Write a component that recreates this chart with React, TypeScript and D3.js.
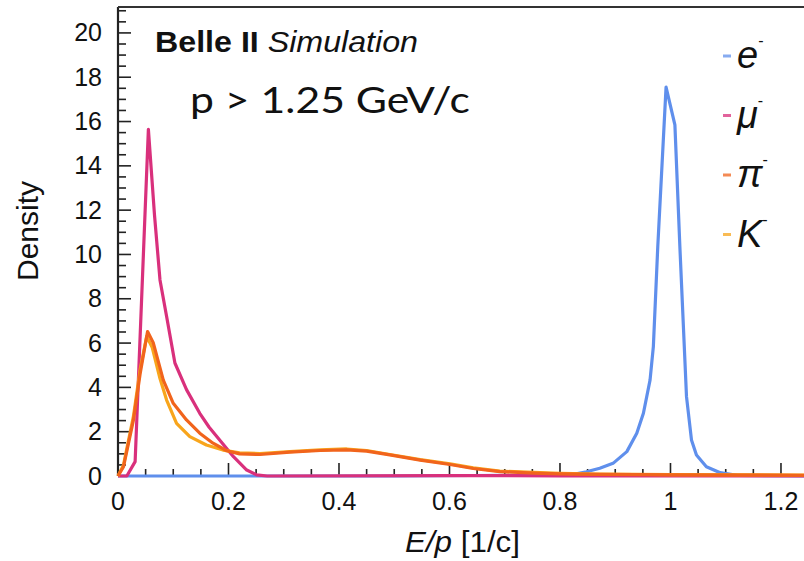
import React, { useEffect, useRef } from 'react';
import * as d3 from 'd3';

// E/p values (x) and density (y)
const electronX = [0, 0.5, 0.82, 0.848, 0.872, 0.896, 0.921, 0.939, 0.951, 0.963, 0.969, 0.977, 0.992, 1.008, 1.017, 1.029, 1.038, 1.047, 1.065, 1.09, 1.12, 1.25];
const electronY = [0, 0, 0.05, 0.19, 0.35, 0.57, 1.1, 1.93, 2.83, 4.33, 5.84, 10.35, 17.55, 15.85, 10.35, 3.58, 1.63, 0.95, 0.42, 0.15, 0.03, 0];

const muonX = [0, 0.016, 0.031, 0.055, 0.066, 0.076, 0.088, 0.103, 0.124, 0.148, 0.165, 0.184, 0.209, 0.233, 0.251, 0.27, 0.6, 0.8, 1.25];
const muonY = [0, 0, 0.65, 15.65, 11.8, 8.85, 7.2, 5.1, 3.9, 2.83, 2.2, 1.62, 0.87, 0.27, 0.05, 0, 0.02, 0.01, 0];

const pionX = [0, 0.01, 0.028, 0.04, 0.0535, 0.064, 0.082, 0.1, 0.124, 0.148, 0.172, 0.197, 0.22, 0.257, 0.311, 0.366, 0.414, 0.45, 0.492, 0.547, 0.601, 0.643, 0.691, 0.752, 0.8, 0.872, 1.0, 1.25];
const pionY = [0, 0.42, 2.53, 4.6, 6.52, 6.0, 4.33, 3.28, 2.53, 1.93, 1.48, 1.14, 1.0, 0.97, 1.08, 1.15, 1.18, 1.12, 0.95, 0.72, 0.52, 0.34, 0.2, 0.13, 0.1, 0.07, 0.05, 0.03];

const kaonX = [0, 0.01, 0.028, 0.04, 0.052, 0.062, 0.076, 0.088, 0.106, 0.13, 0.16, 0.19, 0.22, 0.257, 0.311, 0.366, 0.414, 0.45, 0.492, 0.547, 0.601, 0.643, 0.691, 0.752, 0.8, 0.872, 1.0, 1.25];
const kaonY = [0, 0.5, 2.7, 4.8, 6.3, 5.8, 4.4, 3.43, 2.38, 1.78, 1.4, 1.17, 1.05, 1.01, 1.1, 1.18, 1.22, 1.15, 0.97, 0.74, 0.55, 0.37, 0.22, 0.16, 0.12, 0.09, 0.06, 0.04];

const seriesNames = ['e', 'μ', 'π', 'K'];
const seriesColors = ['#5f8fec', '#d9307c', '#f1641c', '#f8a51c'];
const xTicks = [0, 0.2, 0.4, 0.6, 0.8, 1, 1.2];
const yTicks = [0, 2, 4, 6, 8, 10, 12, 14, 16, 18, 20];

const W = 804;
const H = 561;

export default function App() {
  const svgRef = useRef<SVGSVGElement>(null);

  useEffect(() => {
    const svg = d3.select(svgRef.current);
    svg.selectAll('*').remove();

    const left = 118, right = 808.6, top = 7, bottom = 476;
    const x = d3.scaleLinear().domain([0, 1.25]).range([left, right]);
    const y = d3.scaleLinear().domain([0, 21.17]).range([bottom, top]);

    const helv = '"Liberation Sans", Arial, sans-serif';

    // curves
    const series = [
      { xs: electronX, ys: electronY, c: seriesColors[0] },
      { xs: muonX, ys: muonY, c: seriesColors[1] },
      { xs: kaonX, ys: kaonY, c: seriesColors[3] },
      { xs: pionX, ys: pionY, c: seriesColors[2] },
    ];
    const line = d3.line<[number, number]>().x((d) => x(d[0])).y((d) => y(d[1]));

    // axis frame
    const g = svg.append('g');
    g.append('line').attr('x1', left).attr('x2', left).attr('y1', top).attr('y2', bottom)
      .attr('stroke', '#222').attr('stroke-width', 2.2);
    g.append('line').attr('x1', left).attr('x2', W).attr('y1', top).attr('y2', top)
      .attr('stroke', '#333').attr('stroke-width', 2.2);
    g.append('line').attr('x1', left).attr('x2', W).attr('y1', bottom).attr('y2', bottom)
      .attr('stroke', '#222').attr('stroke-width', 2);

    // y ticks every 0.5, major every 2
    d3.range(0, 21.01, 0.5).forEach((v) => {
      const major = Math.abs(v % 2) < 1e-6;
      g.append('line').attr('x1', left).attr('x2', left + (major ? 13 : 8))
        .attr('y1', y(v)).attr('y2', y(v)).attr('stroke', '#222').attr('stroke-width', 1.6);
    });
    // x ticks every 0.05, major every 0.2
    d3.range(0, 1.2501, 0.05).forEach((v) => {
      const major = Math.abs(v / 0.2 - Math.round(v / 0.2)) < 1e-6;
      g.append('line').attr('x1', x(v)).attr('x2', x(v))
        .attr('y1', bottom).attr('y2', bottom - (major ? 13 : 7)).attr('stroke', '#222').attr('stroke-width', 1.6);
    });

    g.selectAll('.ylab').data(yTicks).join('text')
      .attr('x', 102).attr('y', (d) => y(d) + 8.5)
      .attr('text-anchor', 'end').attr('font-family', helv).attr('font-size', 25).attr('fill', '#111')
      .text((d) => d);
    g.selectAll('.xlab').data(xTicks).join('text')
      .attr('x', (d) => x(d)).attr('y', 510)
      .attr('text-anchor', 'middle').attr('font-family', helv).attr('font-size', 25).attr('fill', '#111')
      .text((d) => d);

    svg.append('g').selectAll('path').data(series).join('path')
      .attr('d', (s) => line(s.xs.map((v, i) => [v, s.ys[i]] as [number, number])))
      .attr('fill', 'none').attr('stroke', (s) => s.c).attr('stroke-width', 3.2)
      .attr('stroke-linejoin', 'round');

    // axis titles
    svg.append('text').attr('transform', 'translate(38,231) rotate(-90)')
      .attr('text-anchor', 'middle').attr('font-family', helv).attr('font-size', 30).attr('fill', '#111')
      .text('Density');
    const xt = svg.append('text').attr('x', 405).attr('y', 552)
      .attr('font-family', helv).attr('font-size', 30).attr('fill', '#111')
      .attr('textLength', 115).attr('lengthAdjust', 'spacingAndGlyphs');
    xt.append('tspan').attr('font-style', 'italic').text('E/p');
    xt.append('tspan').text(' [1/c]');

    // labels
    const bt = svg.append('text').attr('x', 155).attr('y', 52)
      .attr('font-family', helv).attr('font-size', 30).attr('fill', '#111')
      .attr('textLength', 263).attr('lengthAdjust', 'spacingAndGlyphs');
    bt.append('tspan').attr('font-weight', 'bold').text('Belle II ');
    bt.append('tspan').attr('font-style', 'italic').text('Simulation');

    svg.append('text').attr('x', 190).attr('y', 113)
      .attr('font-family', 'Lato, "Open Sans", sans-serif').attr('font-size', 37).attr('fill', '#111')
      .attr('textLength', 280).attr('lengthAdjust', 'spacingAndGlyphs')
      .text('p > 1.25 GeV/c');

    // legend
    const leg = svg.append('g');
    seriesNames.forEach((name, i) => {
      const by = 68 + i * 59.5;
      leg.append('line').attr('x1', 723).attr('x2', 731).attr('y1', by - 12).attr('y2', by - 12)
        .attr('stroke', seriesColors[i]).attr('stroke-width', 3).attr('opacity', 0.75);
      const t = leg.append('text').attr('x', 737).attr('y', by)
        .attr('font-family', helv).attr('font-size', 38).attr('font-style', 'italic').attr('fill', '#111');
      t.append('tspan').text(name);
      t.append('tspan').attr('font-size', 16).attr('dy', -22).attr('font-style', 'normal').text('-');
    });
  }, []);

  return (
    <svg ref={svgRef} width={W} height={H} style={{ position: 'absolute', left: 0, top: 0, background: '#fff' }} />
  );
}
